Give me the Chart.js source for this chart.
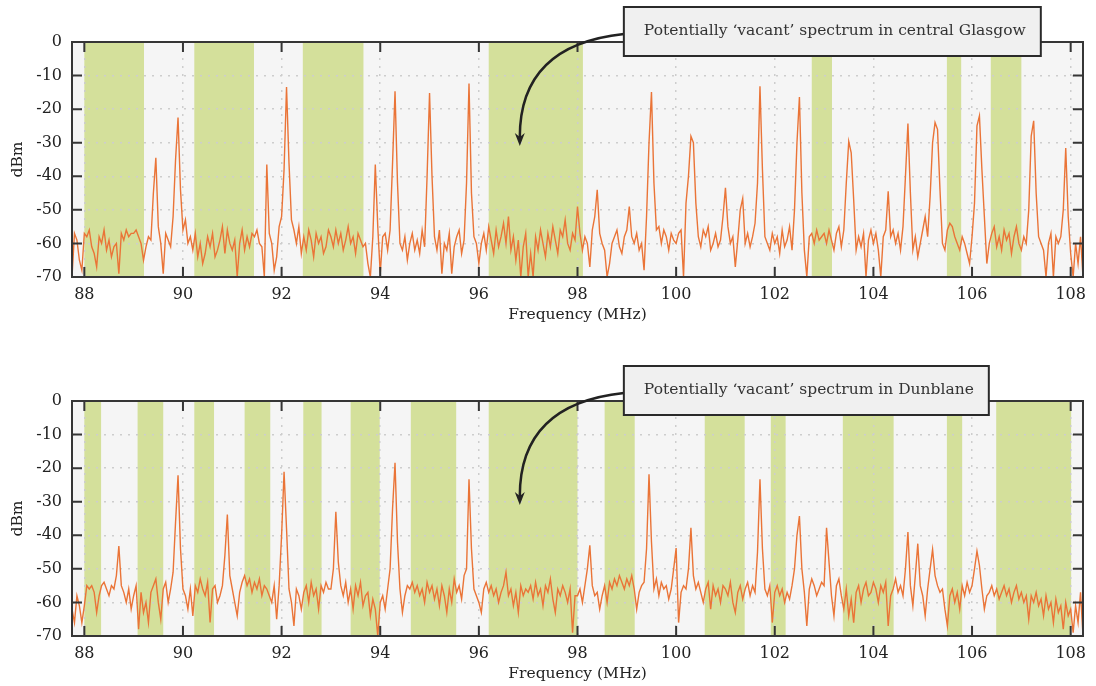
<!DOCTYPE html>
<html>
<head>
<meta charset="utf-8">
<script src="https://cdn.jsdelivr.net/npm/chart.js@4"></script>
<style>
  body { margin: 0; background: #fff; width: 1096px; height: 686px; overflow: hidden; position: relative; }
  .panel { position: absolute; left: 0; width: 1096px; height: 343px; }
</style>
</head>
<body>
<div class="panel" style="top:0"><canvas id="glasgow" width="1096" height="343"></canvas></div>
<div class="panel" style="top:359px"><canvas id="dunblane" width="1096" height="343"></canvas></div>
<script>
// sweep grid of the analyser (MHz)
const sweepStart = 87.75;
const sweepStep = 0.05;

const xTicks = [88, 90, 92, 94, 96, 98, 100, 102, 104, 106, 108];
const yTicks = [0, -10, -20, -30, -40, -50, -60, -70];

// measured level (dBm), one row per MHz
const glasgowDbm = [
  -70, -57, -59, -65, -68,
  -57, -58, -56, -61, -63, -67, -58, -60, -56, -62, -59, -64, -61, -60, -69, -57, -59, -56, -58, -57,
  -57, -56, -58, -60, -65, -61, -58, -59, -45, -34.5, -55, -60, -69, -57, -59, -61, -52, -35, -22.5, -44,
  -56, -53, -60, -58, -62, -57, -64, -60, -66, -63, -58, -61, -57, -64, -62, -59, -55, -63, -56, -60,
  -62, -59, -70, -60, -56, -62, -58, -61, -57, -58, -56, -60, -61, -70, -36.5, -57, -60, -68, -64, -55,
  -52, -38, -13.4, -36, -53, -56, -60, -55, -63, -58, -62, -56, -59, -64, -57, -60, -58, -63, -61, -56,
  -58, -61, -56, -60, -57, -62, -59, -55, -60, -58, -63, -57, -59, -61, -60, -66, -70, -58, -36.5, -55,
  -69, -58, -57, -62, -56, -36, -14.7, -42, -60, -62, -58, -65, -60, -57, -62, -59, -63, -56, -61, -40,
  -15.2, -40, -58, -62, -56, -69, -60, -62, -57, -69, -61, -58, -56, -63, -59, -42, -12.4, -45, -58, -60,
  -66, -60, -57, -62, -55, -59, -63, -56, -61, -58, -54, -60, -52, -62, -58, -65, -59, -70, -61, -57,
  -70, -63, -70, -58, -62, -56, -60, -64, -57, -61, -55, -59, -63, -56, -58, -53, -60, -62, -57, -59,
  -49, -57, -62, -58, -60, -67, -56, -52, -44, -57, -60, -62, -70, -66, -60, -58, -56, -61, -63, -58,
  -56, -49, -58, -60, -57, -62, -60, -68, -52, -30, -14.9, -42, -56, -55, -60, -56, -58, -62, -57, -59,
  -60, -57, -56, -70, -48, -40, -28.1, -30, -48, -58, -61, -56, -58, -55, -62, -60, -57, -61, -59, -52,
  -43.4, -55, -60, -58, -67, -59, -50, -46.6, -60, -57, -61, -58, -54, -42, -13.2, -38, -58, -60, -62, -57,
  -60, -58, -63, -56, -61, -59, -55, -62, -50, -30, -16.4, -45, -62, -70, -58, -57, -60, -56, -59, -58,
  -57, -60, -56, -59, -62, -57, -55, -61, -56, -42, -29.6, -33, -47, -62, -58, -61, -57, -70, -59, -56,
  -60, -57, -62, -70, -58, -56, -44.5, -58, -56, -60, -57, -62, -55, -40, -24.3, -45, -62, -58, -64, -60,
  -56, -52, -58, -46, -30, -24, -26, -44, -60, -62, -56, -54, -55, -58, -60, -62, -58, -60, -63, -66,
  -58, -48, -25, -22, -38, -52, -66, -60, -57, -55, -61, -58, -62, -56, -59, -57, -63, -58, -55, -60,
  -62, -58, -60, -50, -28, -23.5, -45, -58, -60, -62, -70, -60, -57, -70, -58, -60, -58, -50, -31.6, -52,
  -63, -70, -60, -66, -58, -70
];

const dunblaneDbm = [
  -62, -66, -58, -61, -66,
  -61, -55, -56, -55, -57, -63, -58, -55, -54, -56, -58, -55, -56, -52, -43.2, -55, -57, -60, -56, -62,
  -58, -55, -68, -57, -63, -60, -66, -57, -55, -53, -60, -65, -56, -54, -60, -56, -51, -36, -22.1, -44,
  -56, -58, -62, -56, -64, -55, -57, -53, -56, -58, -54, -66, -56, -55, -60, -58, -55, -46, -33.8, -52,
  -56, -60, -64, -57, -54, -52, -55, -53, -57, -54, -56, -53, -58, -55, -56, -58, -60, -55, -65, -55,
  -40, -21.1, -38, -56, -60, -67, -56, -58, -62, -57, -55, -60, -54, -58, -56, -62, -55, -57, -54, -56,
  -56, -50, -33, -48, -55, -58, -54, -60, -56, -62, -55, -58, -54, -61, -58, -57, -64, -59, -62, -70,
  -60, -58, -62, -56, -50, -32, -18.4, -42, -56, -63, -58, -55, -56, -54, -57, -55, -58, -56, -60, -54,
  -57, -55, -59, -56, -61, -55, -58, -63, -56, -60, -53, -57, -55, -59, -52, -50, -23.3, -44, -56, -58,
  -60, -63, -56, -54, -57, -55, -58, -56, -60, -57, -55, -51, -58, -56, -61, -57, -63, -55, -58, -56,
  -57, -55, -59, -54, -58, -56, -61, -55, -57, -53, -59, -63, -56, -58, -55, -57, -60, -56, -69, -58,
  -58, -56, -60, -55, -50, -43, -55, -58, -57, -62, -58, -55, -60, -54, -56, -53, -55, -52, -54, -56,
  -53, -55, -52, -56, -62, -57, -55, -54, -44, -21.8, -42, -56, -53, -58, -54, -56, -55, -59, -56, -50,
  -43.8, -66, -57, -55, -56, -50, -37.8, -52, -56, -54, -57, -60, -56, -54, -62, -55, -58, -56, -60, -55,
  -56, -58, -54, -60, -63, -57, -55, -59, -56, -54, -58, -55, -57, -45, -23.3, -44, -56, -58, -55, -66,
  -57, -55, -58, -56, -60, -57, -59, -55, -50, -40, -34.3, -50, -57, -67, -56, -53, -55, -58, -56, -54,
  -55, -37.8, -48, -58, -64, -55, -53, -58, -62, -56, -64, -59, -66, -57, -55, -60, -56, -54, -58, -57,
  -54, -56, -60, -55, -57, -54, -67, -58, -56, -53, -57, -55, -58, -50, -39, -55, -61, -52, -42.5, -55,
  -58, -64, -56, -50, -44.2, -52, -55, -57, -56, -62, -67, -58, -56, -60, -57, -62, -55, -58, -54, -57,
  -55, -50, -44.7, -49, -56, -62, -58, -57, -55, -58, -56, -59, -57, -55, -58, -56, -60, -57, -55, -59,
  -57, -60, -58, -65, -58, -60, -57, -61, -59, -64, -58, -62, -60, -66, -59, -63, -61, -68, -60, -64,
  -62, -69, -61, -66, -57, -70
];

// potentially vacant ranges (MHz)
const glasgowBands = [[88.0, 89.21], [90.23, 91.44], [92.43, 93.66], [96.2, 98.11], [102.75, 103.16], [105.49, 105.78], [106.38, 107.0]];
const dunblaneBands = [[88.0, 88.34], [89.08, 89.6], [90.23, 90.63], [91.25, 91.77], [92.44, 92.81], [93.4, 93.99], [94.62, 95.54],
  [96.2, 98.0], [98.55, 99.16], [100.58, 101.39], [101.92, 102.22], [103.38, 104.41], [105.49, 105.8], [106.49, 108.01]];

const FONT = "'DejaVu Serif', serif";
Chart.defaults.font.family = FONT;
Chart.defaults.color = "#222";

// shaded bands behind, frame / inner ticks / callout on top
const panelDecor = {
  id: "panelDecor",
  beforeDraw(chart, args, opts) {
    const { ctx, chartArea: a, scales: { x } } = chart;
    ctx.save();
    ctx.fillStyle = "#f5f5f5";
    ctx.fillRect(a.left, a.top, a.width, a.height);
    ctx.fillStyle = "#d4e09b";
    opts.bands.forEach(([from, to]) => {
      const x0 = x.getPixelForValue(from);
      const x1 = x.getPixelForValue(to);
      ctx.fillRect(x0, a.top, x1 - x0, a.height);
    });
    ctx.restore();
  },
  afterDraw(chart, args, opts) {
    const { ctx, chartArea: a, scales: { x, y } } = chart;
    ctx.save();
    ctx.strokeStyle = "#363636";
    ctx.lineWidth = 2;
    ctx.beginPath();
    xTicks.forEach((v) => {
      const px = x.getPixelForValue(v);
      ctx.moveTo(px, a.bottom); ctx.lineTo(px, a.bottom - 10);
      ctx.moveTo(px, a.top); ctx.lineTo(px, a.top + 10);
    });
    yTicks.forEach((v) => {
      const py = y.getPixelForValue(v);
      ctx.moveTo(a.left, py); ctx.lineTo(a.left + 10, py);
      ctx.moveTo(a.right, py); ctx.lineTo(a.right - 10, py);
    });
    ctx.stroke();
    ctx.strokeRect(a.left, a.top, a.width, a.height);

    // callout with curved arrow
    const note = opts.note;
    const tipX = x.getPixelForValue(note.tip[0]);
    const tipY = y.getPixelForValue(note.tip[1]);
    const bx = x.getPixelForValue(note.boxAt);
    const by = a.top - 35;
    const bh = 49;
    ctx.font = "15.5px " + FONT;
    const bw = ctx.measureText(note.text).width + 35;
    const sy = by + 27;

    ctx.strokeStyle = "#222";
    ctx.lineWidth = 2.5;
    ctx.beginPath();
    ctx.moveTo(bx, sy);
    ctx.quadraticCurveTo(tipX, sy + 11, tipX, tipY - 9);
    ctx.stroke();
    ctx.fillStyle = "#222";
    ctx.beginPath();
    ctx.moveTo(tipX, tipY);
    ctx.lineTo(tipX - 5, tipY - 13);
    ctx.lineTo(tipX, tipY - 9);
    ctx.lineTo(tipX + 5, tipY - 13);
    ctx.closePath();
    ctx.fill();

    ctx.fillStyle = "#f0f0f0";
    ctx.fillRect(bx, by, bw, bh);
    ctx.lineWidth = 2;
    ctx.strokeStyle = "#2a2a2a";
    ctx.strokeRect(bx, by, bw, bh);
    ctx.fillStyle = "#333";
    ctx.textBaseline = "alphabetic";
    ctx.fillText(note.text, bx + 20, by + 28);
    ctx.restore();
  },
};

function makePanel(id, values, bands, text) {
  const points = values.map((v, i) => ({ x: sweepStart + i * sweepStep, y: v }));
  return new Chart(document.getElementById(id), {
    type: "line",
    data: {
      datasets: [{
        data: points,
        borderColor: "#ea7437",
        borderWidth: 1.4,
        pointRadius: 0,
        tension: 0,
      }],
    },
    plugins: [panelDecor],
    options: {
      responsive: false,
      animation: false,
      layout: { padding: { top: 42, right: 13, left: 0, bottom: 0 } },
      plugins: {
        legend: { display: false },
        tooltip: { enabled: false },
        panelDecor: { bands: bands, note: { text: text, tip: [96.83, -31], boxAt: 98.94 } },
      },
      scales: {
        x: {
          type: "linear",
          min: 87.75,
          max: 108.25,
          afterBuildTicks: (scale) => { scale.ticks = xTicks.map((v) => ({ value: v })); },
          afterFit: (scale) => { scale.height = 66; },
          ticks: { padding: 8, font: { size: 16 }, maxRotation: 0 },
          grid: { color: "#cdcdcd", lineWidth: 1.5, drawTicks: false, borderDash: [2, 6] },
          border: { display: false, dash: [2, 6] },
          title: { display: true, text: "Frequency (MHz)", font: { size: 15.5 }, padding: { top: 0, bottom: 19 } },
        },
        y: {
          min: -70,
          max: 0,
          afterBuildTicks: (scale) => { scale.ticks = yTicks.map((v) => ({ value: v })); },
          afterFit: (scale) => { scale.width = 72; },
          ticks: { padding: 10, font: { size: 16 }, callback: (v) => String(v) },
          grid: { color: "#cdcdcd", lineWidth: 1.5, drawTicks: false, borderDash: [2, 6] },
          border: { display: false, dash: [2, 6] },
          title: { display: true, text: "dBm", font: { size: 15.5 }, padding: { top: 9, bottom: 0 } },
        },
      },
    },
  });
}

makePanel("glasgow", glasgowDbm, glasgowBands, "Potentially \u2018vacant\u2019 spectrum in central Glasgow");
makePanel("dunblane", dunblaneDbm, dunblaneBands, "Potentially \u2018vacant\u2019 spectrum in Dunblane");
</script>
</body>
</html>
